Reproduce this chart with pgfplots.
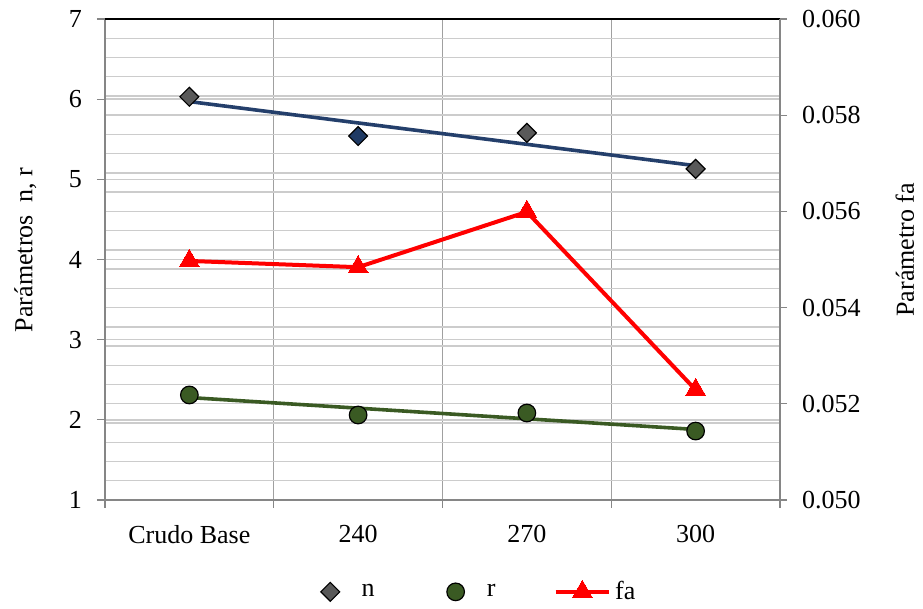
\documentclass[border=0pt]{standalone}
\usepackage{fontspec}
\setmainfont{Liberation Serif}
\usepackage{pgfplots}
\pgfplotsset{compat=1.18}

\definecolor{ndiam}{HTML}{595959}
\definecolor{nmark}{HTML}{1F3A64}
\definecolor{nline}{HTML}{243F6B}
\definecolor{rgreen}{HTML}{3A5A23}
\definecolor{hgrid}{HTML}{CCCCCC}
\definecolor{vgrid}{HTML}{A0A0A0}
\definecolor{axgray}{HTML}{868686}

\pgfplotsset{
  /pgf/number format/assume math mode=true,
  common/.style={
    scale only axis, width=337.5pt, height=240.5pt,
    at={(0,0)}, anchor=south west,
    xmin=-0.5, xmax=3.5,
    tick align=outside,
    major tick length=3.5pt, minor tick length=0pt,
    tick style={axgray, line width=0.6pt},
    tick label style={font=\fontsize{13}{15}\selectfont, black},
    label style={font=\fontsize{13}{15}\selectfont},
  },
  falegend/.style={legend image code/.code={
    \draw[##1, mark=none] (0cm,0cm) -- (0.94cm,0cm);
    \draw[##1, draw=none] plot coordinates {(0.47cm,0cm)};
  }},
  markleg/.style={legend image code/.code={
    \path[draw=none, fill=none] (0cm,0cm) -- (0.78cm,0cm);
    \draw[##1] plot coordinates {(0.3cm,0cm)};
  }},
}

\begin{document}
\begin{tikzpicture}
\path[use as bounding box] (-52.5pt,-54.5pt) rectangle (409pt,250pt);

% left ordinate: parameters n and r (also carries the grid)
\begin{axis}[common,
  axis x line*=bottom,
  axis y line*=left,
  x axis line style={axgray, line width=0.9pt, -},
  y axis line style={axgray, line width=0.9pt, -},
  ymin=1, ymax=7, ytick={1,2,3,4,5,6,7},
  minor ytick={1.24,1.48,1.72,1.96,2.20,2.44,2.68,2.92,3.16,3.40,3.64,3.88,
    4.12,4.36,4.60,4.84,5.08,5.32,5.56,5.80,6.04,6.28,6.52,6.76},
  ymajorgrids, yminorgrids,
  y grid style={hgrid, line width=0.7pt},
  minor y grid style={hgrid, line width=0.7pt},
  xtick={-0.5,0.5,1.5,2.5,3.5},
  xticklabels={},
  major tick length=4pt,
  xmajorgrids,
  x grid style={vgrid, line width=0.7pt},
  extra x ticks={0,1,2,3},
  extra x tick labels={Crudo Base,240,270,300},
  extra x tick style={grid=none, major tick length=0pt,
    tick label style={yshift=-9pt}},
  yticklabel style={xshift=-4pt},
  ylabel={Parámetros\ \ n, r},
  ylabel style={at={(rel axis cs:-0.118,0.52)}, anchor=center},
]
\addplot[only marks, mark=square*, mark size=3.35pt,
  mark options={rotate=45, fill=ndiam, draw=black, line width=0.6pt}]
  coordinates {(0,6.03) (2,5.58) (3,5.13)};
\addplot[only marks, mark=square*, mark size=3.35pt,
  mark options={rotate=45, fill=nmark, draw=black, line width=0.6pt}]
  coordinates {(1,5.54)};
\addplot[only marks, mark=*, mark size=4.4pt,
  mark options={fill=rgreen, draw=black, line width=0.6pt}]
  coordinates {(0,2.31) (1,2.06) (2,2.085) (3,1.86)};
% linear trend lines
\addplot[nline, line width=1.8pt] coordinates {(0,5.97) (3,5.17)};
\addplot[rgreen, line width=1.8pt] coordinates {(0,2.278) (3,1.88)};
\draw[black, line width=1.2pt] (rel axis cs:0,1) -- (rel axis cs:1,1);
\end{axis}

% right ordinate: friction parameter fa
\begin{axis}[common,
  axis x line=none,
  axis y line*=right,
  y axis line style={axgray, line width=0.9pt, -},
  ymin=0.050, ymax=0.060,
  ytick={0.050,0.052,0.054,0.056,0.058,0.060},
  scaled y ticks=false,
  yticklabel style={/pgf/number format/fixed, /pgf/number format/fixed zerofill,
    /pgf/number format/precision=3, xshift=4pt},
  ylabel={Parámetro fa},
  ylabel style={at={(rel axis cs:1.185,0.52)}, anchor=center, rotate=0},
  legend columns=3,
  legend style={draw=none, fill=none, at={(rel axis cs:0.550,-0.191)}, anchor=center,
    font=\fontsize{13}{15}\selectfont,
    /tikz/column 2/.append style={column sep=30pt},
    /tikz/column 4/.append style={column sep=27pt}},
]
\addlegendimage{only marks, mark=square*, mark size=3.35pt,
  mark options={rotate=45, fill=ndiam, draw=black, line width=0.6pt}, markleg}
\addlegendentry{n}
\addlegendimage{only marks, mark=*, mark size=4.4pt,
  mark options={fill=rgreen, draw=black, line width=0.6pt}, markleg}
\addlegendentry{r}
\addplot[red, line width=2pt, mark=triangle*, mark size=5.8pt,
  mark options={fill=red, draw=red, line width=0pt}, falegend]
  coordinates {(0,0.05497) (1,0.05484) (2,0.05599) (3,0.05229)};
\addlegendentry{fa}
\end{axis}
\end{tikzpicture}
\end{document}
